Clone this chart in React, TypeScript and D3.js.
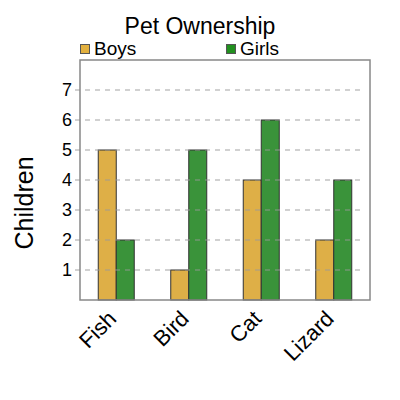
import { useEffect, useRef } from "react";
import * as d3 from "d3";

const pets = ["Fish", "Bird", "Cat", "Lizard"];
const boys = [5, 1, 4, 2];
const girls = [2, 5, 6, 4];
const series = ["Boys", "Girls"];
const yTicks = [1, 2, 3, 4, 5, 6, 7];

const barColors = ["#deaf47", "#3a933a"];
const legendColors = ["#e2b03e", "#22901f"];

export default function App() {
  const svgRef = useRef<SVGSVGElement>(null);

  useEffect(() => {
    if (!svgRef.current) return;
    const svg = d3.select(svgRef.current);
    svg.selectAll("*").remove();

    const width = 400;
    const height = 400;
    const margin = { left: 80, right: 30, top: 60, bottom: 100 };
    const font = "'Liberation Sans', Arial, sans-serif";

    const x = d3
      .scaleBand()
      .domain(pets)
      .range([margin.left, width - margin.right])
      .padding(0);
    const inner = d3.scaleBand().domain(series).range([0, 36]);
    const y = d3
      .scaleLinear()
      .domain([0, 8])
      .range([height - margin.bottom, margin.top]);

    // Title
    svg
      .append("text")
      .attr("x", 200)
      .attr("y", 34)
      .attr("text-anchor", "middle")
      .attr("font-family", font)
      .attr("font-size", "23px")
      .attr("fill", "#000")
      .text("Pet Ownership");

    // Legend
    series.forEach((s, i) => {
      const lx = margin.left + i * 146;
      svg
        .append("rect")
        .attr("x", lx + 0.5)
        .attr("y", 44.5)
        .attr("width", 9)
        .attr("height", 9)
        .attr("fill", legendColors[i])
        .attr("stroke", "#555")
        .attr("stroke-width", 1);
      svg
        .append("text")
        .attr("x", lx + 14)
        .attr("y", 55)
        .attr("font-family", font)
        .attr("font-size", "19px")
        .text(s);
    });

    // Bars
    const data = pets.map((p, i) => ({ pet: p, values: [boys[i], girls[i]] }));
    data.forEach((d) => {
      const cx = (x(d.pet) as number) + x.bandwidth() / 2 - 18;
      d.values.forEach((v, j) => {
        svg
          .append("rect")
          .attr("x", cx + (inner(series[j]) as number))
          .attr("y", y(v))
          .attr("width", inner.bandwidth())
          .attr("height", y(0) - y(v))
          .attr("fill", barColors[j])
          .attr("stroke", "#333")
          .attr("stroke-width", 1);
      });
    });

    // Grid lines and y ticks
    yTicks.forEach((t) => {
      svg
        .append("line")
        .attr("x1", margin.left - 5)
        .attr("x2", width - margin.right - 6)
        .attr("y1", y(t))
        .attr("y2", y(t))
        .attr("stroke", "#999")
        .attr("stroke-opacity", 0.6)
        .attr("stroke-width", 1.5)
        .attr("stroke-dasharray", "5,5");
      svg
        .append("text")
        .attr("x", margin.left - 8)
        .attr("y", y(t))
        .attr("dy", "0.36em")
        .attr("text-anchor", "end")
        .attr("font-family", font)
        .attr("font-size", "18px")
        .text(t);
    });

    // Frame
    svg
      .append("rect")
      .attr("x", margin.left)
      .attr("y", margin.top)
      .attr("width", width - margin.left - margin.right)
      .attr("height", height - margin.top - margin.bottom)
      .attr("fill", "none")
      .attr("stroke", "#888")
      .attr("stroke-width", 1.5);

    // X labels
    pets.forEach((p) => {
      const px = (x(p) as number) + x.bandwidth() / 2 + 1.5;
      const py = 320;
      svg
        .append("text")
        .attr("transform", `translate(${px},${py}) rotate(-45)`)
        .attr("text-anchor", "end")
        .attr("font-family", font)
        .attr("font-size", "22px")
        .text(p);
    });

    // Y label
    svg
      .append("text")
      .attr("transform", "translate(33,203) rotate(-90)")
      .attr("text-anchor", "middle")
      .attr("font-family", font)
      .attr("font-size", "25px")
      .text("Children");
  }, []);

  return <svg ref={svgRef} width={400} height={400} style={{ display: "block", margin: -8 }} />;
}
